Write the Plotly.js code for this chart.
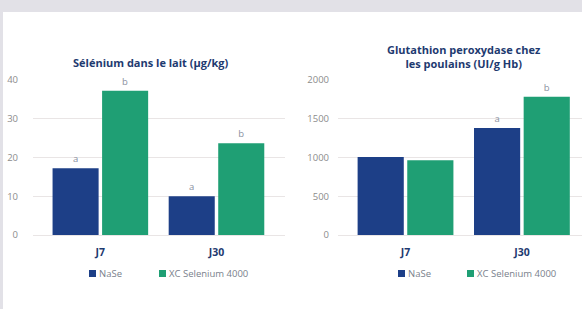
<!DOCTYPE html>
<html>
<head>
<meta charset="utf-8">
<script src="https://cdn.plot.ly/plotly-3.0.1.min.js"></script>
<style>
html,body{margin:0;padding:0;overflow:hidden;background:#e2e1e7;width:582px;height:309px;}
#panel{position:absolute;left:3px;top:12px;width:579px;height:297px;background:#ffffff;}
#chart{position:absolute;left:0;top:0;width:600px;height:309px;}
</style>
</head>
<body>
<div id="panel"></div>
<div id="chart"></div>
<script>
var categories = ['J7', 'J30'];
var seriesNames = ['NaSe', 'XC Selenium 4000'];
var seleniumNaSe = [17.2, 10];
var seleniumXC = [37.2, 23.7];
var seleniumNaSeLetters = ['a', 'a'];
var seleniumXCLetters = ['b', 'b'];
var gpxNaSe = [1005, 1380];
var gpxXC = [965, 1785];
var gpxNaSeLetters = ['', 'a'];
var gpxXCLetters = ['', 'b'];
var leftTitle = 'Sélénium dans le lait (µg/kg)';
var rightTitle = 'Glutathion peroxydase chez<br>les poulains (UI/g Hb)';
var leftTicks = [0, 10, 20, 30, 40];
var rightTicks = [0, 500, 1000, 1500, 2000];

var colNaSe = '#1d3f87';
var colXC = '#1f9f74';
var navy = '#1e3a70';
var FONT = 'Open Sans, sans-serif';

function barTrace(y, txt, name, color, xa, ya) {
  return {
    type: 'bar', x: categories, y: y, name: name, text: txt,
    textposition: 'outside', cliponaxis: false,
    textfont: {family: FONT, size: 9.5, color: '#8a90a0'},
    marker: {color: color, line: {width: 0}},
    xaxis: xa, yaxis: ya, showlegend: false, hoverinfo: 'none'
  };
}

var data = [
  barTrace(seleniumNaSe, seleniumNaSeLetters, seriesNames[0], colNaSe, 'x', 'y'),
  barTrace(seleniumXC, seleniumXCLetters, seriesNames[1], colXC, 'x', 'y'),
  barTrace(gpxNaSe, gpxNaSeLetters, seriesNames[0], colNaSe, 'x2', 'y2'),
  barTrace(gpxXC, gpxXCLetters, seriesNames[1], colXC, 'x2', 'y2')
];

var W = 600, H = 309;
function px(x) { return x / W; }
function py(y) { return 1 - y / H; }

var xCommon = {
  type: 'category', range: [-0.58, 1.59], showgrid: false, zeroline: false,
  showline: false, ticks: '', ticklabelstandoff: 9,
  tickfont: {family: FONT, size: 10.5, color: navy, weight: 'bold'}
};
var yCommon = {
  showgrid: true, gridcolor: '#e9e5e5', gridwidth: 1, zeroline: true,
  zerolinecolor: '#e9e5e5', zerolinewidth: 1, showline: false, ticks: '',
  tickfont: {family: FONT, size: 9.5, color: '#8c8c8c'}
};

var domY = [py(235), py(80)];

var layout = {
  width: W, height: H,
  margin: {l: 0, r: 0, t: 0, b: 0, pad: 0},
  paper_bgcolor: 'rgba(0,0,0,0)', plot_bgcolor: 'rgba(0,0,0,0)',
  barmode: 'group', bargap: 0.147, bargroupgap: 0.07,
  showlegend: false,
  xaxis: Object.assign({}, xCommon, {domain: [px(33), px(285)], anchor: 'y'}),
  xaxis2: Object.assign({}, xCommon, {domain: [px(338), px(590.6)], anchor: 'y2'}),
  yaxis: Object.assign({}, yCommon, {domain: domY, range: [0, 40], tickvals: leftTicks, anchor: 'x', ticklabelstandoff: 14}),
  yaxis2: Object.assign({}, yCommon, {domain: domY, range: [0, 2000], tickvals: rightTicks, anchor: 'x2', ticklabelstandoff: 8}),
  annotations: [
    {text: leftTitle, xref: 'paper', yref: 'paper', x: px(151), y: py(62), xanchor: 'center', yanchor: 'middle',
     showarrow: false, font: {family: FONT, size: 11, color: navy, weight: 'bold'}},
    {text: rightTitle, xref: 'paper', yref: 'paper', x: px(464), y: py(56), xanchor: 'center', yanchor: 'middle',
     showarrow: false, font: {family: FONT, size: 11, color: navy, weight: 'bold'}}
  ],
  shapes: []
};

// manual legends (one per chart)
var legendDefs = [
  {items: [{x: 89, text: seriesNames[0], color: colNaSe}, {x: 159, text: seriesNames[1], color: colXC}]},
  {items: [{x: 398, text: seriesNames[0], color: colNaSe}, {x: 467, text: seriesNames[1], color: colXC}]}
];
legendDefs.forEach(function (lg) {
  lg.items.forEach(function (it) {
    layout.shapes.push({type: 'rect', xref: 'paper', yref: 'paper',
      x0: px(it.x), x1: px(it.x + 7), y0: py(277), y1: py(270),
      fillcolor: it.color, line: {width: 0}});
    layout.annotations.push({text: it.text, xref: 'paper', yref: 'paper',
      x: px(it.x + 10), y: py(273.5), xanchor: 'left', yanchor: 'middle', showarrow: false,
      borderpad: 0, borderwidth: 0,
      font: {family: FONT, size: 9.5, color: '#7a7f8c'}});
  });
});

Plotly.newPlot('chart', data, layout, {staticPlot: true, displayModeBar: false});
</script>
</body>
</html>
